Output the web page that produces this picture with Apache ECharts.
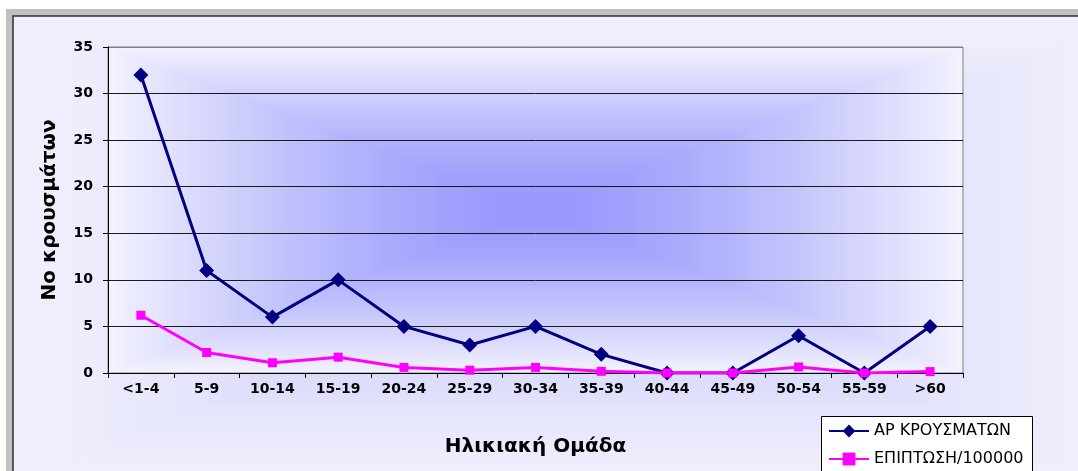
<!DOCTYPE html>
<html>
<head>
<meta charset="utf-8">
<script src="https://cdn.jsdelivr.net/npm/echarts@6/dist/echarts.min.js"></script>
<style>
  html, body { margin: 0; padding: 0; background: #fff; }
  #chart { width: 1078px; height: 471px; }
</style>
</head>
<body>
<div id="chart"></div>
<script>
// age groups
const categories = ['<1-4','5-9','10-14','15-19','20-24','25-29','30-34','35-39','40-44','45-49','50-54','55-59','>60'];
// number of cases
const cases = [32, 11, 6, 10, 5, 3, 5, 2, 0, 0, 4, 0, 5];
// incidence per 100000
const incidence = [6.2, 2.2, 1.1, 1.7, 0.6, 0.3, 0.6, 0.18, 0, 0, 0.65, 0, 0.15];
const yTicks = [0, 5, 10, 15, 20, 25, 30, 35];

const chart = echarts.init(document.getElementById('chart'));

// rectangular "from centre" gradient built out of stacked translucent rects
function boxGradient(x, y, w, h, rgb, n, z, ease) {
  let out = [];
  let prev = 1;
  for (let k = 1; k <= n; k++) {
    let t = (k - 1) / n;
    let d = 1 - Math.pow(k / n, ease);
    let a = prev > 0 ? 1 - d / prev : 1;
    prev = d;
    out.push({
      type: 'rect', silent: true, z: z, z2: k,
      shape: { x: x + t * w / 2, y: y + t * h / 2, width: w * (1 - t), height: h * (1 - t) },
      style: { fill: 'rgba(' + rgb + ',' + a.toFixed(4) + ')' }
    });
  }
  return out;
}

const gL = 108, gT = 47, gR = 963, gB = 373;

let bg = [
  { type: 'rect', silent: true, z: -30, shape: { x: 6, y: 9, width: 1100, height: 500 }, style: { fill: '#c0c0c0' } },
  { type: 'rect', silent: true, z: -29, shape: { x: 13, y: 16, width: 1100, height: 500 }, style: { fill: '#eeeefc', stroke: '#303030', lineWidth: 1.5 } }
];
bg = bg.concat(boxGradient(14, 17, 1110, 470, '200,200,248', 40, -28, 1.6));
bg.push({ type: 'rect', silent: true, z: -20, shape: { x: gL, y: gT, width: gR - gL, height: gB - gT }, style: { fill: '#f5f5fd' } });
bg = bg.concat(boxGradient(gL, gT, gR - gL, gB - gT, '153,153,255', 60, -19, 0.85));
// legend box (runs off the bottom edge like the original)
bg.push({ type: 'rect', silent: true, z: 5, shape: { x: 821.5, y: 416.5, width: 211, height: 80 }, style: { fill: '#ffffff', stroke: '#000', lineWidth: 1 } });

const option = {
  animation: false,
  textStyle: { fontFamily: 'DejaVu Sans' },
  graphic: { elements: bg },
  grid: {
    left: gL, top: gT, right: 1078 - gR, bottom: 471 - gB,
    show: true, backgroundColor: 'transparent', borderColor: '#808080', borderWidth: 1
  },
  legend: {
    z: 10,
    orient: 'vertical',
    left: 821, top: 416,
    padding: [7, 6, 0, 7],
    itemWidth: 40, itemHeight: 16, itemGap: 12,
    textStyle: { fontFamily: 'DejaVu Sans', fontSize: 16, color: '#000' },
    data: ['ΑΡ ΚΡΟΥΣΜΑΤΩΝ', 'ΕΠΙΠΤΩΣΗ/100000']
  },
  xAxis: {
    type: 'category',
    data: categories,
    boundaryGap: true,
    name: 'Ηλικιακή Ομάδα',
    nameLocation: 'middle',
    nameGap: 64,
    nameTextStyle: { fontFamily: 'DejaVu Sans', fontWeight: 'bold', fontSize: 20, color: '#000' },
    axisLine: { lineStyle: { color: '#000', width: 1 } },
    axisTick: { show: true, length: 5, lineStyle: { color: '#000' } },
    axisLabel: { margin: 9, fontFamily: 'DejaVu Sans', fontWeight: 'bold', fontSize: 14, color: '#000' }
  },
  yAxis: {
    type: 'value',
    min: yTicks[0], max: yTicks[yTicks.length - 1], interval: 5,
    name: 'Νο κρουσμάτων',
    nameLocation: 'middle',
    nameGap: 48,
    nameTextStyle: { fontFamily: 'DejaVu Sans', fontWeight: 'bold', fontSize: 20, color: '#000' },
    axisLine: { show: true, lineStyle: { color: '#000', width: 1 } },
    axisTick: { show: true, length: 5, lineStyle: { color: '#000' } },
    axisLabel: { margin: 15, fontFamily: 'DejaVu Sans', fontWeight: 'bold', fontSize: 14, color: '#000' },
    splitLine: { show: true, lineStyle: { color: ['#1a1a1a','#1a1a1a','#1a1a1a','#1a1a1a','#1a1a1a','#1a1a1a','#1a1a1a','#808080'], width: 1 } }
  },
  series: [
    {
      name: 'ΑΡ ΚΡΟΥΣΜΑΤΩΝ',
      type: 'line',
      data: cases,
      symbol: 'diamond',
      symbolSize: [15, 15],
      z: 3,
      lineStyle: { color: '#000080', width: 3 },
      itemStyle: { color: '#000080' }
    },
    {
      name: 'ΕΠΙΠΤΩΣΗ/100000',
      type: 'line',
      data: incidence,
      symbol: 'rect',
      symbolSize: 9,
      z: 4,
      lineStyle: { color: '#ff00ff', width: 3 },
      itemStyle: { color: '#ff00ff' }
    }
  ]
};
chart.setOption(option);
</script>
</body>
</html>
